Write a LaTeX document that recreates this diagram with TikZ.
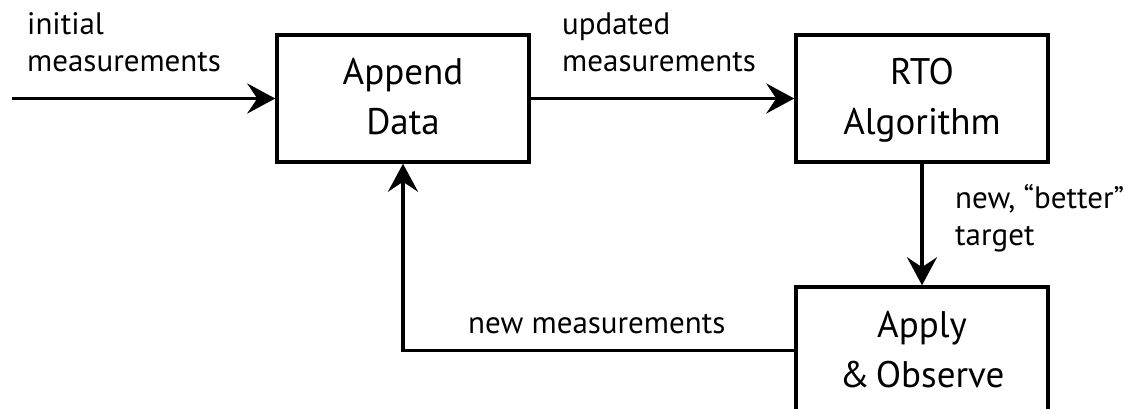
\documentclass[tikz,border=0pt]{standalone}
\usepackage{fontspec}
\setmainfont{PT Sans}
\usetikzlibrary{arrows.meta}
\tikzset{
  procbox/.style={draw, line width=3.5pt, minimum width=252pt, minimum height=127pt,
    inner sep=0pt, align=center, font=\fontsize{37}{50}\selectfont,
    text height=73pt, text depth=0pt},
  lbl/.style={anchor=base west, inner sep=0pt, align=left, font=\fontsize{31}{37}\selectfont},
  flow/.style={line width=3.5pt, -{Stealth[length=28pt, width=30pt, inset=10pt]}}
}
\begin{document}
\begin{tikzpicture}[x=1pt, y=-1pt]
\useasboundingbox (0,0) rectangle (1128,409);
\clip (0,0) rectangle (1128,409);
\node[procbox] (append) at (403,98.5) {Append\\Data};
\node[procbox] (rto) at (922,98.5) {RTO\\Algorithm};
\node[procbox] (apply) at (922,350.5) {Apply\\\&\,Observe};
\coordinate (start) at (12,98.5);
\draw[flow] (start) -- (append.west);
\draw[flow] (append.east) -- (rto.west);
\draw[flow] (rto.south) -- (apply.north);
\draw[flow] (apply.west) -| (append.south);
\node[lbl] (lini) at (27,72) {initial\\measurements};
\node[lbl] (lupd) at (562,72) {updated\\measurements};
\node[lbl] (lbet) at (955,245) {new, “better”\\target};
\node[lbl] (lnew) at (468,333) {new measurements};
\end{tikzpicture}
\end{document}
